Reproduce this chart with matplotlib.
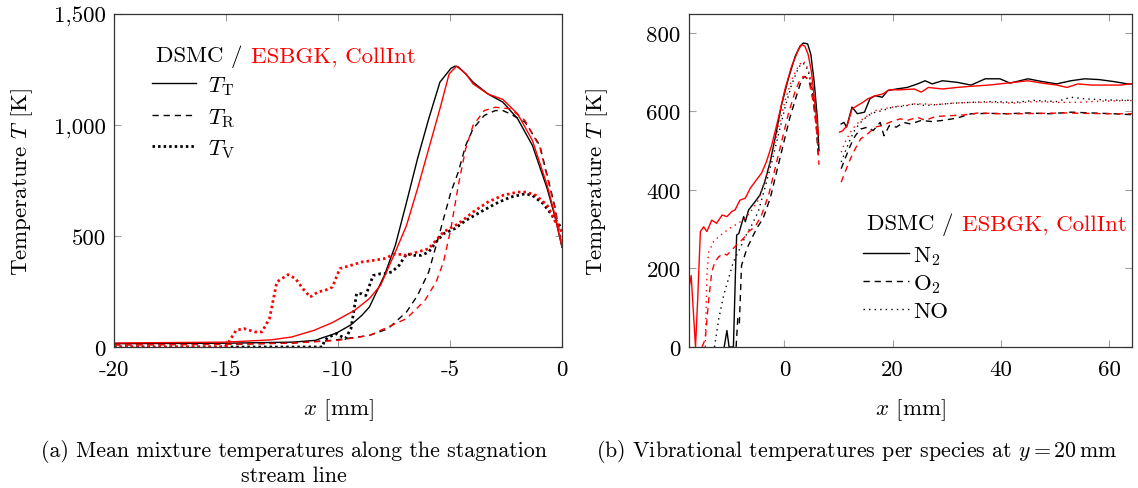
import numpy as np
import matplotlib
matplotlib.use("Agg")
import matplotlib.pyplot as plt
from matplotlib.offsetbox import TextArea, HPacker, AnchoredOffsetbox

plt.rcParams['font.family'] = ['cmr10', 'DejaVu Serif']
plt.rcParams['mathtext.fontset'] = 'cm'
plt.rcParams['axes.unicode_minus'] = False
plt.rcParams['axes.formatter.use_mathtext'] = True

nan = np.nan

# ---------------- (a) mean mixture temperatures ----------------
TT_dsmc_x = [-20, -15, -12, -11, -10.74, -10.08, -9.42, -8.93, -8.6, -7.93, -7.44, -6.94, -6.45, -5.95,
             -5.45, -4.96, -4.78, -4.63, -4.3, -3.97, -3.31, -2.64, -1.98, -1.32, -0.66, -0.33, 0]
TT_dsmc_T = [15, 17, 22, 30, 40, 62, 100, 143, 180, 322, 458, 652, 848, 1028,
             1193, 1255, 1265, 1262, 1230, 1193, 1140, 1103, 1028, 908, 713, 593, 450]
TT_esbgk_x = [-20, -15, -13, -12.07, -11.07, -10.25, -9.26, -8.6, -8.1, -7.44, -6.94, -6.45, -5.95,
              -5.45, -5.04, -4.71, -4.3, -3.97, -3.31, -2.64, -1.98, -1.32, -0.66, -0.33, 0]
TT_esbgk_T = [18, 22, 32, 45, 75, 110, 165, 218, 278, 428, 548, 713, 893,
              1073, 1230, 1265, 1232, 1185, 1140, 1115, 1050, 930, 728, 600, 450]
TR_dsmc_x = [-20, -15, -12, -10.25, -8.6, -7.77, -6.94, -6.45, -5.95, -5.45, -4.96, -4.63, -4.3,
             -3.97, -3.47, -2.98, -2.64, -2.31, -1.65, -0.99, -0.33, 0]
TR_dsmc_T = [10, 12, 18, 30, 52, 82, 158, 232, 338, 518, 698, 788, 908,
             983, 1043, 1065, 1065, 1050, 1013, 908, 638, 450]
TR_esbgk_x = [-20, -15, -12, -10, -8.6, -6.94, -6.12, -5.62, -5.29, -4.96, -4.63, -4.3, -3.97,
              -3.47, -2.98, -2.31, -1.65, -0.99, -0.33, 0]
TR_esbgk_T = [10, 12, 18, 30, 52, 128, 210, 293, 383, 533, 728, 893, 998,
              1065, 1080, 1073, 1020, 900, 630, 450]
TV_dsmc_x = [-20, -10.7, -10.6, -10.4, -10.08, -9.67, -9.42, -9.17, -8.93, -8.76, -8.43, -8.1, -7.93,
             -7.6, -7.27, -6.94, -6.61, -6.28, -5.95, -5.62, -5.29, -4.79, -4.3, -3.64, -2.98, -2.31,
             -1.65, -1.32, -0.83, -0.33, 0]
TV_dsmc_T = [0, 0, 30, 45, 60, 38, 83, 240, 240, 232, 322, 330, 330,
             338, 368, 420, 413, 413, 428, 473, 510, 533, 570, 608, 645, 675,
             690, 683, 645, 578, 533]
TV_esbgk_x = [-20, -15.05, -14.88, -14.55, -14.2, -13.7, -13.4, -13.06, -12.73, -12.23, -11.9, -11.57,
              -11.24, -10.9, -10.58, -10.25, -9.92, -9.42, -8.93, -8.43, -7.93, -7.44, -6.94, -6.45,
              -5.95, -5.29, -4.63, -3.97, -3.31, -2.64, -1.98, -1.6, -1.16, -0.66, -0.33, 0]
TV_esbgk_T = [0, 0, 22, 75, 83, 68, 68, 128, 293, 326, 308, 263,
              225, 248, 255, 270, 353, 368, 383, 390, 398, 420, 413, 428,
              443, 518, 555, 608, 653, 683, 698, 698, 683, 638, 570, 518]

# ---------------- (b) vibrational temperatures per species ----------------
N2_dsmc_x = [-11.1, -10.6, -10.2, -9.4, -9.0, -8.8, -8.4, -7.5, -7.2, -6.6, -5.4, -4.5, -3.6, -2.6, -1.7,
             -0.5, 0.7, 2.0, 2.9, 3.5, 4.3, 4.9, 5.5, 6.1, 6.4, nan,
             10.5, 11.0, 11.5, 12.5, 13.5, 14.8, 15.8, 16.8, 18.1, 19.1, 20.7, 22.7, 24.6, 26.0, 27.3,
             29.2, 31.9, 34.5, 37.1, 39.8, 41.7, 45.0, 47.6, 50.3, 52.9, 55.5, 58.1, 60.8, 63.4, 65]
N2_dsmc_T = [0, 42, 0, 0, 200, 285, 289, 332, 319, 349, 370, 387, 421, 472, 532,
             617, 681, 740, 766, 774, 772, 745, 677, 583, 500, nan,
             568, 572, 560, 611, 594, 598, 632, 640, 636, 653, 657, 661, 670, 678, 670,
             678, 674, 667, 683, 683, 672, 683, 676, 670, 678, 683, 681, 676, 670, 670]
N2_esbgk_x = [-17.6, -17.2, -16.4, -16.0, -15.5, -14.9, -14.3, -13.4, -12.5, -11.5, -10.6, -9.7, -9.1,
              -8.2, -7.2, -6.3, -5.4, -4.2, -3.3, -2.3, -1.1, 0.1, 1.35, 2.6, 3.2, 3.8, 4.4, 5.0, 5.6,
              6.3, nan,
              10.2, 10.8, 11.6, 12.5, 13.5, 14.5, 15.4, 16.8, 18.1, 19.4, 21.4, 24.0, 25.3, 26.6, 29.2,
              31.9, 34.5, 37.8, 41.1, 45.0, 47.6, 50.3, 52.2, 54.2, 56.8, 59.5, 62.1, 65]
N2_esbgk_T = [150, 182, 0, 120, 294, 306, 294, 323, 315, 336, 332, 345, 349,
              374, 379, 404, 421, 443, 472, 515, 583, 655, 715, 757, 770, 766, 745, 702, 625,
              540, nan,
              547, 551, 564, 606, 615, 623, 632, 640, 644, 655, 655, 657, 649, 661, 657,
              661, 664, 667, 672, 678, 672, 667, 661, 670, 667, 667, 667, 672]
O2_dsmc_x = [-8.9, -8.6, -8.3, -7.9, -6.9, -6.0, -5.1, -3.9, -2.6, -1.4, -0.2, 1.0, 2.3, 3.2, 3.8, 4.5,
             5.2, 5.8, 6.3, nan,
             10.5, 11.2, 12.2, 13.1, 14.1, 15.4, 16.4, 17.7, 18.4, 19.4, 20.7, 22.0, 23.3, 25.3, 27.3,
             29.2, 31.9, 34.5, 37.8, 41.1, 45.0, 49.0, 52.9, 56.8, 60.8, 65]
O2_dsmc_T = [0, 72, 60, 208, 251, 277, 302, 328, 379, 447, 515, 583, 642, 681, 689, 681,
             651, 583, 481, nan,
             454, 479, 513, 538, 555, 560, 551, 572, 538, 564, 560, 572, 568, 577, 574,
             577, 583, 594, 595, 594, 596, 594, 598, 596, 594, 591]
O2_esbgk_x = [-15.2, -14.6, -14.0, -13.4, -12.8, -12.1, -11.2, -10.6, -9.7, -8.8, -7.5, -6.6, -5.4, -4.2,
              -2.9, -1.7, -0.5, 0.7, 2.0, 2.9, 3.5, 4.1, 4.7, 5.3, 6.0, 6.4, nan,
              10.5, 11.2, 12.2, 13.1, 14.1, 15.4, 16.8, 18.1, 19.4, 21.4, 22.7, 24.6, 26.0, 27.9, 30.6,
              33.2, 35.8, 39.8, 43.7, 47.6, 51.6, 55.5, 59.5, 65]
O2_esbgk_T = [0, 20, 115, 191, 217, 230, 238, 234, 247, 260, 277, 294, 306, 336,
              387, 455, 523, 591, 651, 681, 689, 685, 668, 625, 549, 464, nan,
              420, 445, 479, 505, 530, 543, 560, 564, 572, 581, 577, 585, 577, 587, 589,
              591, 596, 594, 594, 595, 596, 595, 594, 594]
NO_dsmc_x = [-12.9, -12.1, -11.2, -10.3, -9.4, -8.2, -7.2, -6.0, -4.8, -3.6, -2.3, -1.1, 0.1, 1.35, 2.6,
             3.3, 3.9, 4.5, 5.2, 5.8, 6.3, nan,
             10.5, 11.2, 12.2, 13.1, 14.1, 15.4, 16.8, 18.1, 20.0, 22.0, 24.0, 26.0, 27.9, 31.2, 34.5,
             38.4, 42.4, 46.3, 50.3, 52.9, 55.5, 59.5, 65]
NO_dsmc_T = [0, 72, 132, 174, 217, 251, 281, 311, 345, 404, 472, 540, 608, 668, 711,
             723, 719, 698, 651, 583, 498, nan,
             471, 496, 530, 555, 572, 589, 598, 602, 611, 613, 619, 615, 617, 621, 623,
             625, 623, 628, 625, 636, 632, 629, 628]
NO_esbgk_x = [-14.6, -14.3, -14.0, -13.1, -12.1, -10.9, -9.7, -8.5, -7.2, -6.0, -4.8, -3.6, -2.3, -1.1,
              0.1, 1.35, 2.6, 3.3, 3.9, 4.5, 5.2, 5.8, 6.3, nan,
              10.5, 11.2, 12.2, 13.1, 14.1, 15.4, 16.8, 18.1, 20.0, 22.0, 24.0, 26.0, 27.9, 31.2, 34.5,
              38.4, 42.4, 46.3, 50.3, 54.2, 58.1, 65]
NO_esbgk_T = [0, 180, 240, 268, 281, 294, 306, 315, 328, 349, 374, 421, 489, 557,
              625, 681, 715, 728, 723, 702, 660, 591, 515, nan,
              496, 521, 547, 564, 577, 589, 602, 606, 611, 615, 619, 619, 617, 621, 623,
              623, 621, 625, 623, 623, 626, 628]

a_xticks = [-20, -15, -10, -5, 0]
a_xticklabels = ['-20', '-15', '-10', '-5', '0']
a_yticks = [0, 500, 1000, 1500]
a_yticklabels = ['0', '500', '1,000', '1,500']
b_xticks = [0, 20, 40, 60]
b_xticklabels = ['0', '20', '40', '60']
b_yticks = [0, 200, 400, 600, 800]
b_yticklabels = ['0', '200', '400', '600', '800']

RED = '#ff0000'
FS = 16.5

W, H = 1138, 489
fig = plt.figure(figsize=(W / 100, H / 100), dpi=100)
ax1 = fig.add_axes([114 / W, 1 - 348 / H, (562 - 114) / W, (348 - 15) / H])
ax2 = fig.add_axes([689 / W, 1 - 348 / H, (1132 - 689) / W, (348 - 15) / H])

solid = '-'
dashed = (0, (4.5, 3.5))
dotted_a = (0, (0.9, 1.1))
dotted_b = (0, (1, 3))

# panel (a)
ax1.plot(TT_dsmc_x, TT_dsmc_T, color='black', lw=1.0, ls=solid, label=r'$T_\mathrm{T}$')
ax1.plot(TR_dsmc_x, TR_dsmc_T, color='black', lw=1.0, ls=dashed, label=r'$T_\mathrm{R}$')
ax1.plot(TV_dsmc_x, TV_dsmc_T, color='black', lw=2.0, ls=dotted_a, label=r'$T_\mathrm{V}$')
ax1.plot(TT_esbgk_x, TT_esbgk_T, color=RED, lw=1.0, ls=solid)
ax1.plot(TR_esbgk_x, TR_esbgk_T, color=RED, lw=1.0, ls=dashed)
ax1.plot(TV_esbgk_x, TV_esbgk_T, color=RED, lw=2.0, ls=dotted_a)
ax1.set_xlim(-20, 0)
ax1.set_ylim(0, 1500)
ax1.set_xticks(a_xticks)
ax1.set_xticklabels(a_xticklabels)
ax1.set_yticks(a_yticks)
ax1.set_yticklabels(a_yticklabels)

# panel (b)
ax2.plot(N2_dsmc_x, N2_dsmc_T, color='black', lw=1.0, ls=solid, label=r'$\mathrm{N_2}$')
ax2.plot(O2_dsmc_x, O2_dsmc_T, color='black', lw=1.0, ls=dashed, label=r'$\mathrm{O_2}$')
ax2.plot(NO_dsmc_x, NO_dsmc_T, color='black', lw=1.0, ls=dotted_b, label='NO')
ax2.plot(N2_esbgk_x, N2_esbgk_T, color=RED, lw=1.0, ls=solid)
ax2.plot(O2_esbgk_x, O2_esbgk_T, color=RED, lw=1.0, ls=dashed)
ax2.plot(NO_esbgk_x, NO_esbgk_T, color=RED, lw=1.0, ls=dotted_b)
ax2.set_xlim(-17.6, 64.2)
ax2.set_ylim(0, 848)
ax2.set_xticks(b_xticks)
ax2.set_xticklabels(b_xticklabels)
ax2.set_yticks(b_yticks)
ax2.set_yticklabels(b_yticklabels)

for ax in (ax1, ax2):
    ax.tick_params(direction='in', length=5, width=0.8, color='#a0a0a0',
                   top=True, right=True, labelsize=FS)
    ax.tick_params(axis='y', pad=6)
    ax.tick_params(axis='x', pad=9)
    for s in ax.spines.values():
        s.set_linewidth(0.9)
        s.set_color('#333333')
    ax.set_ylabel(r'Temperature $T$ [K]', fontsize=FS)
    ax.set_xlabel(r'$x$ [mm]', fontsize=FS)
    ax.xaxis.label.set_va('center')
    ax.yaxis.label.set_va('center')

ax1.yaxis.set_label_coords((22 - 114) / 448, 0.5)
ax2.yaxis.set_label_coords((597 - 689) / 443, 0.5)
ax1.xaxis.set_label_coords(0.5, (348 - 410) / 333)
ax2.xaxis.set_label_coords(0.5, (348 - 410) / 333)


def legend_title(ax, x, y):
    t1 = TextArea('DSMC /', textprops=dict(color='black', fontsize=FS))
    t2 = TextArea('ESBGK, CollInt', textprops=dict(color=RED, fontsize=FS))
    box = HPacker(children=[t1, t2], align='baseline', pad=0, sep=6)
    anch = AnchoredOffsetbox(loc='center left', child=box, frameon=False, pad=0, borderpad=0,
                             bbox_to_anchor=(x, y), bbox_transform=ax.transAxes)
    ax.add_artist(anch)


legend_title(ax1, (156 - 114) / 448, (348 - 57) / 333)
leg1 = ax1.legend(loc='upper left', bbox_to_anchor=((152 - 114) / 448, (348 - 75) / 333),
                  frameon=False, fontsize=FS, borderpad=0, borderaxespad=0,
                  handlelength=1.9, handletextpad=0.55, labelspacing=0.38)

legend_title(ax2, (867 - 689) / 443, (348 - 225) / 333)
leg2 = ax2.legend(loc='upper left', bbox_to_anchor=((863 - 689) / 443, (348 - 245) / 333),
                  frameon=False, fontsize=FS, borderpad=0, borderaxespad=0,
                  handlelength=2.0, handletextpad=0.18, labelspacing=0.23)

CFS = 15.8
fig.text(294 / W, 1 - 452 / H, '(a) Mean mixture temperatures along the stagnation',
         ha='center', va='center', fontsize=CFS)
fig.text(294 / W, 1 - 476 / H, 'stream line', ha='center', va='center', fontsize=CFS)
fig.text(857 / W, 1 - 452 / H, r'(b) Vibrational temperatures per species at $y = 20\,\mathrm{mm}$',
         ha='center', va='center', fontsize=CFS)

fig.savefig('out.png', dpi=100)
